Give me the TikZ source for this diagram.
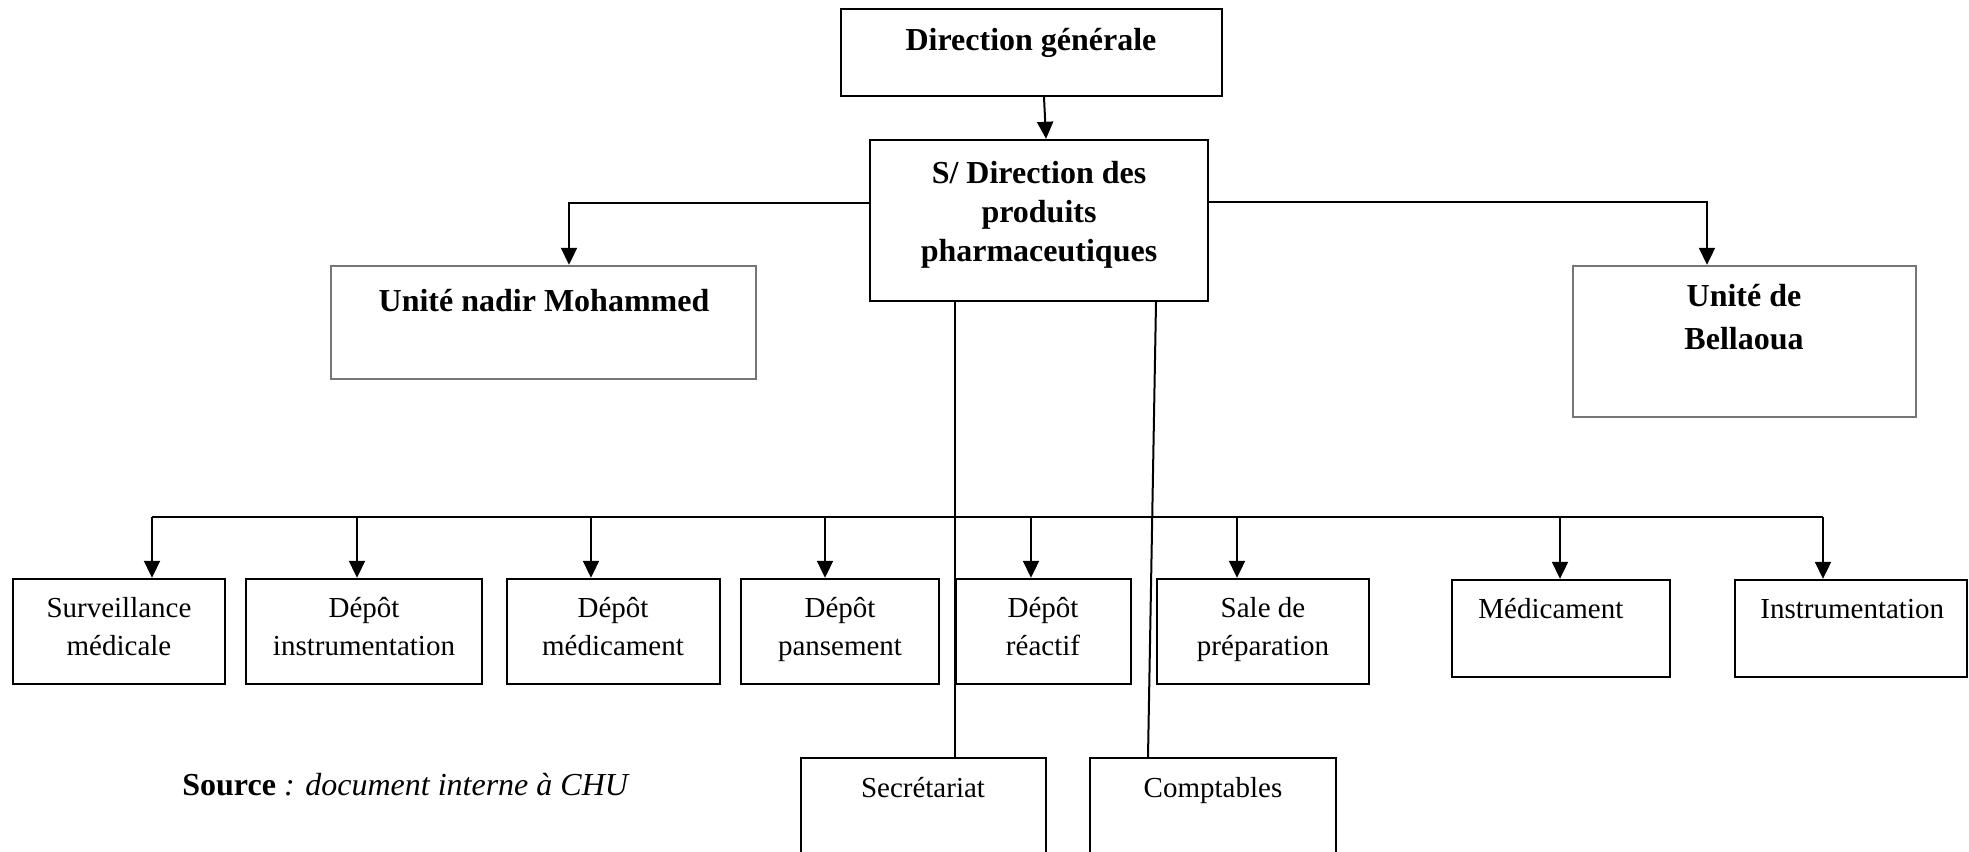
\documentclass[tikz,border=0pt]{standalone}
\usepackage{fontspec}
\setmainfont{Liberation Serif}
\usetikzlibrary{fit,arrows.meta}
\definecolor{boxgray}{RGB}{118,118,118}
\tikzset{
  box/.style={draw=black, line width=1.2pt, inner sep=0pt, rectangle},
  graybox/.style={draw=boxgray, line width=1.2pt, inner sep=0pt, rectangle},
  bt/.style={font=\fontsize{16}{19}\selectfont\bfseries, inner sep=0pt, anchor=base},
  rt/.style={font=\fontsize{14.5}{18}\selectfont, inner sep=0pt, anchor=base},
  link/.style={line width=1pt, draw=black},
  arr/.style={line width=1pt, draw=black, -{Triangle[width=8pt,length=8.5pt]}}
}
\begin{document}
\begin{tikzpicture}[x=0.5pt,y=-0.5pt]
\useasboundingbox (0,0) rectangle (1969,851);
% boxes
\node[box, fit={(841,9) (1222,96)}] (dg) {};
\node[box, fit={(870,140) (1208,301)}] (sd) {};
\node[graybox, fit={(331,266) (756,379)}] (nadir) {};
\node[graybox, fit={(1573,266) (1916,417)}] (bell) {};
\node[box, fit={(13,579) (225,684)}] (b1) {};
\node[box, fit={(246,579) (482,684)}] (b2) {};
\node[box, fit={(507,579) (720,684)}] (b3) {};
\node[box, fit={(741,579) (939,684)}] (b4) {};
\node[box, fit={(956,579) (1131,684)}] (b5) {};
\node[box, fit={(1157,579) (1369,684)}] (b6) {};
\node[box, fit={(1452,580) (1670,677)}] (b7) {};
\node[box, fit={(1735,580) (1967,677)}] (b8) {};
\node[box, fit={(801,758) (1046,880)}] (sec) {};
\node[box, fit={(1090,758) (1336,880)}] (comp) {};
% texts
\node[bt] (dgt) at (1031,50) {Direction générale};
\node[bt] (sdt1) at (1039,183) {S/ Direction des};
\node[bt] (sdt2) at (1039,222) {produits};
\node[bt] (sdt3) at (1039,261) {pharmaceutiques};
\node[bt] (nadirt) at (544,311) {Unité nadir Mohammed};
\node[bt] (bellt1) at (1744,306) {Unité de};
\node[bt] (bellt2) at (1744,349) {Bellaoua};
\node[rt] (b1t1) at (119,617) {Surveillance};
\node[rt] (b1t2) at (119,655) {médicale};
\node[rt] (b2t1) at (364,617) {Dépôt};
\node[rt] (b2t2) at (364,655) {instrumentation};
\node[rt] (b3t1) at (613,617) {Dépôt};
\node[rt] (b3t2) at (613,655) {médicament};
\node[rt] (b4t1) at (840,617) {Dépôt};
\node[rt] (b4t2) at (840,655) {pansement};
\node[rt] (b5t1) at (1043,617) {Dépôt};
\node[rt] (b5t2) at (1043,655) {réactif};
\node[rt] (b6t1) at (1263,617) {Sale de};
\node[rt] (b6t2) at (1263,655) {préparation};
\node[rt, anchor=base west] (b7t) at (1478,618) {Médicament};
\node[rt, anchor=base west] (b8t) at (1760,618) {Instrumentation};
\node[rt] (sect) at (923,797) {Secrétariat};
\node[rt] (compt) at (1213,797) {Comptables};
\node[inner sep=0pt, anchor=base west, font=\fontsize{16}{19}\selectfont] (src) at (182,795) {\textbf{Source}\textit{ : document interne à CHU}};
% connectors
\draw[arr] ([xshift=6.25pt]dg.south) -- ([xshift=3.5pt]sd.north);
\coordinate (cl) at (569,203);
\draw[arr] (sd.west |- cl) -- (cl) -- (cl |- nadir.north);
\coordinate (cr) at (1707,202);
\draw[arr] (sd.east |- cr) -- (cr) -- (cr |- bell.north);
\coordinate (a1) at (152,517);
\coordinate (a2) at (357,517);
\coordinate (a3) at (591,517);
\coordinate (a4) at (825,517);
\coordinate (a5) at (1031,517);
\coordinate (a6) at (1237,517);
\coordinate (a7) at (1560,517);
\coordinate (a8) at (1823,517);
\draw[link] (a1) -- (a8);
\draw[arr] (a1) -- (a1 |- b1.north);
\draw[arr] (a2) -- (a2 |- b2.north);
\draw[arr] (a3) -- (a3 |- b3.north);
\draw[arr] (a4) -- (a4 |- b4.north);
\draw[arr] (a5) -- (a5 |- b5.north);
\draw[arr] (a6) -- (a6 |- b6.north);
\draw[arr] (a7) -- (a7 |- b7.north);
\draw[arr] (a8) -- (a8 |- b8.north);
\coordinate (v1) at (955,0);
\draw[link] (sd.south -| v1) -- (sec.north -| v1);
\coordinate (v2a) at (1156,0);
\coordinate (v2b) at (1148,0);
\draw[link] (sd.south -| v2a) -- (comp.north -| v2b);
\end{tikzpicture}
\end{document}
